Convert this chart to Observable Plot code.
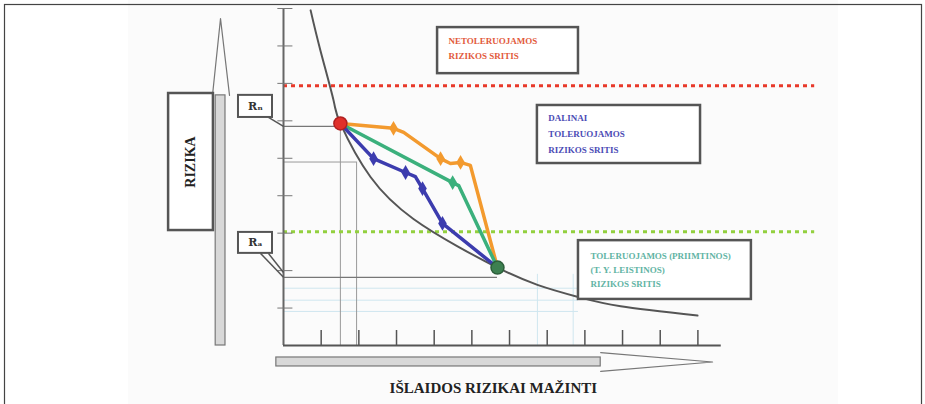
<!DOCTYPE html>
<html><head><meta charset="utf-8">
<script src="https://cdn.jsdelivr.net/npm/d3@7"></script>
<script src="https://cdn.jsdelivr.net/npm/@observablehq/plot@0.6"></script>
<style>body{margin:0;background:#fff;}svg{display:block;}</style>
</head><body><div id="chart"></div>
<script>
// --- data (x: costs to reduce risk, y: risk, arbitrary units) ---
const xTicks = [1,2,3,4,5,6,7,8,9,10,11];
const yTicks = [1,2,3,4,5,6,7,8,9];
const curveX = [0.72, 0.98, 1.33, 1.51, 2.31, 3.45, 4.62, 5.68, 6.74, 7.88, 8.95, 10.99];
const curveY = [8.95, 7.88, 6.54, 5.93, 4.50, 3.38, 2.65, 2.08, 1.62, 1.28, 1.05, 0.80];
const orangeX = [1.51, 2.92, 3.19, 4.17, 4.43, 4.70, 4.96, 5.68];
const orangeY = [5.93, 5.80, 5.69, 4.99, 4.86, 4.89, 4.81, 2.08];
const orangeMarks = [1, 3, 5];
const greenX = [1.51, 4.49, 4.65, 5.68];
const greenY = [5.93, 4.35, 4.27, 2.08];
const greenMarks = [1];
const blueX = [1.51, 2.39, 3.24, 3.50, 3.69, 4.22, 5.68];
const blueY = [5.93, 4.99, 4.62, 4.51, 4.19, 3.26, 2.08];
const blueMarks = [1, 2, 4, 5];
const startPoint = [1.51, 5.93];
const endPoint = [5.68, 2.08];
const levelNetoler = 6.94;   // unacceptable risk level
const levelToler = 3.04;     // acceptable risk level
const levelRn = 5.85;
const levelRa = 1.82;
const zoneLabels = [
  {lines: ["NETOLERUOJAMOS", "RIZIKOS SRITIS"], color: "#e25a3c", x1: 4.09, x2: 7.83, y1: 7.26, y2: 8.49, tx: 4.38, ty: [8.12, 7.72]},
  {lines: ["DALINAI", "TOLERUOJAMOS", "RIZIKOS SRITIS"], color: "#4b4bb5", x1: 6.74, x2: 11.07, y1: 4.86, y2: 6.41, tx: 7.03, ty: [6.06, 5.64, 5.23]},
  {lines: ["TOLERUOJAMOS (PRIIMTINOS)", "(T. Y. LEISTINOS)", "RIZIKOS SRITIS"], color: "#62b4a4", x1: 7.83, x2: 12.42, y1: 1.23, y2: 2.80, tx: 8.15, ty: [2.40, 2.02, 1.64]}
];
const levelLabels = [
  {label: "Rₙ", x1: -1.195, x2: -0.292, y1: 6.09, y2: 6.68},
  {label: "Rₐ", x1: -1.195, x2: -0.292, y1: 2.46, y2: 3.02}
];
const yTitle = "RIZIKA";
const xTitle = "IŠLAIDOS RIZIKAI MAŽINTI";

const pts = (xs, ys) => xs.map((x, i) => ({x, y: ys[i]}));
const curve = pts(curveX, curveY);
const orange = pts(orangeX, orangeY);
const green = pts(greenX, greenY);
const blue = pts(blueX, blueY);
const textRows = zoneLabels.flatMap(z => z.lines.map((t, i) => ({t, x: z.tx, y: z.ty[i], color: z.color})));

// decorative arrows (data units)
const vArrowShaft = [{x1: -1.80, x2: -1.54, y1: 0, y2: 6.68}];
const vArrowHead = [{x: -1.885, y: 6.68}, {x: -1.672, y: 8.73}, {x: -1.433, y: 6.68}];
const hArrowShaft = [{x1: -0.19, x2: 8.42, y1: -0.56, y2: -0.32}];
const hArrowHead = [{x: 8.42, y: -0.19}, {x: 11.39, y: -0.44}, {x: 8.42, y: -0.69}];

const serif = "Liberation Serif, Times New Roman, serif";

const chart = Plot.plot({
  width: 925, height: 404, margin: 0,
  style: {background: "#fff"},
  x: {domain: [0, 11.6], range: [283, 720], axis: null},
  y: {domain: [0, 9], range: [345, 8], axis: null},
  marks: [
    // light background panel
    Plot.rect([{x1: -4.11, x2: 14.73, y1: -1.6, y2: 9.3}], {x1: "x1", x2: "x2", y1: "y1", y2: "y2", fill: "#fbfbfb"}),
    // faint guide lines
    Plot.ruleY([1.53, 1.21, 0.91], {x1: 0, x2: 7.83, stroke: "#cfe6ef", strokeWidth: 1}),
    Plot.ruleX([6.74, 7.69], {y1: 0, y2: 1.9, stroke: "#cfe6ef", strokeWidth: 1}),
    Plot.ruleX([startPoint[0]], {y1: 0, y2: startPoint[1], stroke: "#999", strokeWidth: 1}),
    Plot.ruleX([1.94], {y1: 0, y2: 4.9, stroke: "#999", strokeWidth: 1}),
    Plot.ruleY([4.9], {x1: 0, x2: 1.94, stroke: "#999", strokeWidth: 1}),
    Plot.ruleY([levelRn], {x1: 0, x2: startPoint[0], stroke: "#777", strokeWidth: 1.2}),
    Plot.ruleY([levelRa], {x1: 0, x2: endPoint[0], stroke: "#777", strokeWidth: 1.2}),
    // risk level lines
    Plot.ruleY([levelNetoler], {x1: 0, x2: 14.1, stroke: "#e8392a", strokeWidth: 3, strokeDasharray: "4,4"}),
    Plot.ruleY([levelToler], {x1: 0, x2: 14.1, stroke: "#93d03f", strokeWidth: 3, strokeDasharray: "4,4"}),
    // axes
    Plot.ruleX([0], {y1: 0, y2: 9, stroke: "#666", strokeWidth: 2}),
    Plot.ruleY([0], {x1: 0, x2: 11.62, stroke: "#555", strokeWidth: 2}),
    Plot.ruleX(xTicks, {x: d => d, y1: 0, y2: 0.4, stroke: "#555", strokeWidth: 1.5}),
    Plot.ruleY(yTicks, {y: d => d, x1: -0.15, x2: 0.25, stroke: "#777", strokeWidth: 1}),
    // cost-risk curve
    Plot.line(curve, {x: "x", y: "y", curve: "natural", stroke: "#555", strokeWidth: 2}),
    // strategies
    Plot.line(orange, {x: "x", y: "y", stroke: "#f39a2e", strokeWidth: 3.5, strokeLinejoin: "round"}),
    Plot.line(green, {x: "x", y: "y", stroke: "#3bb07c", strokeWidth: 3.5, strokeLinejoin: "round"}),
    Plot.line(blue, {x: "x", y: "y", stroke: "#3c3cae", strokeWidth: 3.5, strokeLinejoin: "round"}),
    Plot.dot(orangeMarks.map(i => orange[i]), {x: "x", y: "y", symbol: "diamond", r: 4.5, fill: "#f39a2e"}),
    Plot.dot(greenMarks.map(i => green[i]), {x: "x", y: "y", symbol: "diamond", r: 4.5, fill: "#3bb07c"}),
    Plot.dot(blueMarks.map(i => blue[i]), {x: "x", y: "y", symbol: "diamond", r: 4.5, fill: "#3c3cae"}),
    Plot.dot([startPoint], {x: d => d[0], y: d => d[1], r: 6.5, fill: "#e0302a", stroke: "#b02020"}),
    Plot.dot([endPoint], {x: d => d[0], y: d => d[1], r: 6.5, fill: "#3d8050", stroke: "#2c5e3a"}),
    // zone boxes
    Plot.rect(zoneLabels, {x1: "x1", x2: "x2", y1: "y1", y2: "y2", fill: "#fff", stroke: "#555", strokeWidth: 2.5}),
    Plot.text(textRows, {x: "x", y: "y", text: "t", fill: "color", textAnchor: "start", fontSize: 9, fontFamily: serif, fontWeight: "bold", style: "letter-spacing:0.5px"}),
    // Rn / Ra callouts
    Plot.link([{x1: -0.398, y1: 6.09, x2: 0, y2: levelRn}], {x1: "x1", y1: "y1", x2: "x2", y2: "y2", stroke: "#555", strokeWidth: 1.5}),
    Plot.link([{x1: -0.61, y1: 2.46, x2: 0, y2: levelRa}, {x1: -0.40, y1: 2.46, x2: 0, y2: 1.95}], {x1: "x1", y1: "y1", x2: "x2", y2: "y2", stroke: "#555", strokeWidth: 1.5}),
    Plot.rect(levelLabels, {x1: "x1", x2: "x2", y1: "y1", y2: "y2", fill: "#fff", stroke: "#555", strokeWidth: 2}),
    Plot.text(levelLabels, {x: d => (d.x1 + d.x2) / 2, y: d => (d.y1 + d.y2) / 2, text: "label", fontSize: 11, fontWeight: "bold", fontFamily: "DejaVu Serif, serif", fill: "#333"}),
    // vertical risk arrow
    Plot.rect(vArrowShaft, {x1: "x1", x2: "x2", y1: "y1", y2: "y2", fill: "#d8d8d8", stroke: "#777", strokeWidth: 1.2}),
    Plot.line(vArrowHead, {x: "x", y: "y", stroke: "#777", strokeWidth: 1.2}),
    Plot.rect([{x1: -3.05, x2: -1.86, y1: 3.07, y2: 6.73}], {x1: "x1", x2: "x2", y1: "y1", y2: "y2", fill: "#fff", stroke: "#555", strokeWidth: 2.5}),
    Plot.text([yTitle], {x: -2.455, y: 4.9, text: d => d, rotate: -90, fontSize: 14, fontWeight: "bold", fontFamily: serif, fill: "#222"}),
    // horizontal cost arrow
    Plot.rect(hArrowShaft, {x1: "x1", x2: "x2", y1: "y1", y2: "y2", fill: "#d8d8d8", stroke: "#777", strokeWidth: 1.2}),
    Plot.line(hArrowHead, {x: "x", y: "y", stroke: "#777", strokeWidth: 1.2}),
    Plot.text([xTitle], {x: 5.57, y: -1.15, text: d => d, fontSize: 15, fontWeight: "bold", fontFamily: serif, fill: "#222"}),
    // outer frame
    Plot.frame({stroke: "#444", strokeWidth: 1.2, insetLeft: 4, insetTop: 4, insetRight: 4, insetBottom: -6})
  ]
});
document.getElementById("chart").appendChild(chart);
</script></body></html>
